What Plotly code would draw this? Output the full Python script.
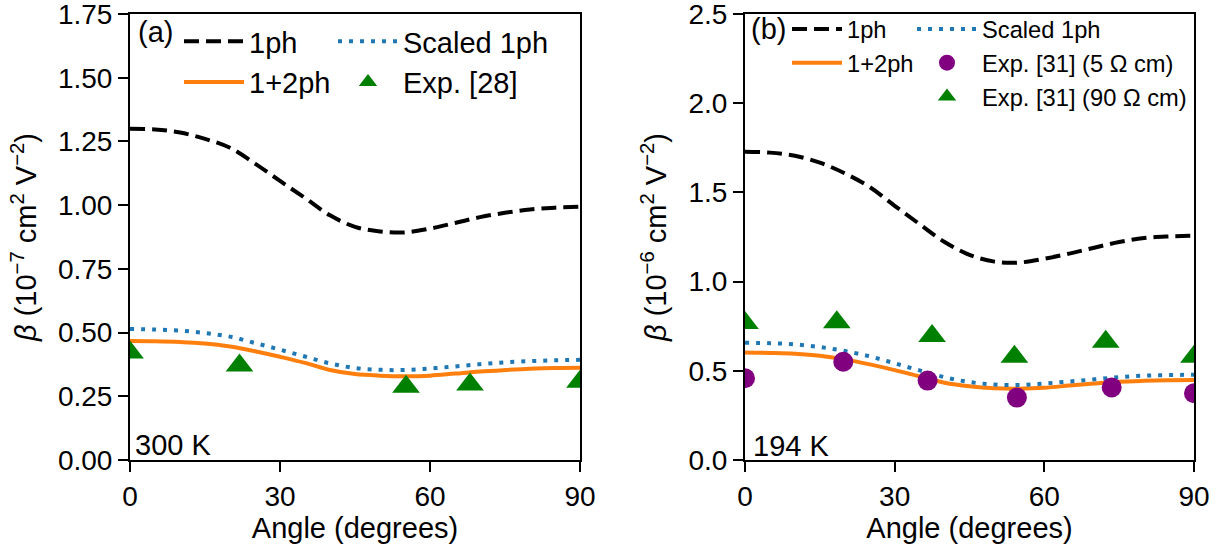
import plotly.graph_objects as go

# ---------------- data ----------------
angles = [0, 5, 10, 15, 20, 25, 30, 35, 40, 45, 50, 55, 60, 65, 70, 75, 80, 85, 90]

a_1ph = [1.300, 1.297, 1.285, 1.260, 1.225, 1.163, 1.095, 1.028, 0.960, 0.915,
         0.897, 0.893, 0.908, 0.930, 0.953, 0.970, 0.983, 0.990, 0.994]
a_scaled = [0.514, 0.512, 0.508, 0.498, 0.484, 0.459, 0.433, 0.406, 0.379, 0.361,
            0.354, 0.353, 0.359, 0.367, 0.376, 0.383, 0.388, 0.391, 0.393]
a_12ph = [0.467, 0.466, 0.463, 0.457, 0.445, 0.427, 0.405, 0.381, 0.353, 0.337,
          0.331, 0.329, 0.331, 0.339, 0.347, 0.353, 0.358, 0.361, 0.362]
a_exp_ang = [0, 21.9, 55.2, 68, 90]
a_exp = [0.422, 0.371, 0.287, 0.296, 0.307]

b_1ph = [1.728, 1.723, 1.705, 1.667, 1.607, 1.530, 1.425, 1.322, 1.222, 1.150,
         1.112, 1.107, 1.128, 1.157, 1.190, 1.222, 1.244, 1.253, 1.257]
b_scaled = [0.657, 0.655, 0.648, 0.633, 0.611, 0.581, 0.542, 0.502, 0.464, 0.437,
            0.423, 0.421, 0.429, 0.440, 0.452, 0.464, 0.473, 0.476, 0.478]
b_12ph = [0.602, 0.600, 0.596, 0.585, 0.564, 0.536, 0.504, 0.468, 0.433, 0.413,
          0.402, 0.400, 0.405, 0.417, 0.429, 0.439, 0.444, 0.447, 0.448]
b_exp5_ang = [0, 19.7, 36.6, 54.5, 73.5, 90]
b_exp5 = [0.458, 0.551, 0.445, 0.350, 0.407, 0.374]
b_exp90_ang = [0, 18.4, 37.5, 54, 72.3, 90]
b_exp90 = [0.768, 0.772, 0.695, 0.579, 0.663, 0.579]

x_ticks = [0, 30, 60, 90]
a_yticks = [0, 0.25, 0.5, 0.75, 1.0, 1.25, 1.5, 1.75]
b_yticks = [0, 0.5, 1.0, 1.5, 2.0, 2.5]

# ---------------- styling ----------------
W, H = 1219, 550
FONT = "Liberation Sans, Arial, Helvetica, sans-serif"
FS = 29
TFS = 28
LFS_B = 23.7
BLACK = "#000000"
BLUE = "#1f77b4"
ORANGE = "#ff7f0e"
GREEN = "#008000"
PURPLE = "#800080"


def px(v):
    return v / W


def py(v):
    return 1 - v / H


fig = go.Figure()

# panel a
fig.add_trace(go.Scatter(x=angles, y=a_1ph, mode="lines", name="1ph", line_shape="spline",
                         line=dict(color=BLACK, width=4, dash="15px,7px"),
                         xaxis="x", yaxis="y", legend="legend"))
fig.add_trace(go.Scatter(x=angles, y=a_12ph, mode="lines", name="1+2ph", line_shape="spline",
                         line=dict(color=ORANGE, width=4),
                         xaxis="x", yaxis="y", legend="legend"))
fig.add_trace(go.Scatter(x=angles, y=a_scaled, mode="lines", name="Scaled 1ph", line_shape="spline",
                         line=dict(color=BLUE, width=4, dash="4px,7px"),
                         xaxis="x", yaxis="y", legend="legend2"))
fig.add_trace(go.Scatter(x=a_exp_ang, y=a_exp, mode="markers", name="Exp. [28]",
                         marker=dict(symbol="triangle-up", size=24, color=GREEN),
                         xaxis="x", yaxis="y", legend="legend2"))

# panel b
fig.add_trace(go.Scatter(x=angles, y=b_1ph, mode="lines", name="1ph", line_shape="spline",
                         line=dict(color=BLACK, width=4, dash="15px,7px"),
                         xaxis="x2", yaxis="y2", legend="legend3"))
fig.add_trace(go.Scatter(x=angles, y=b_12ph, mode="lines", name="1+2ph", line_shape="spline",
                         line=dict(color=ORANGE, width=4),
                         xaxis="x2", yaxis="y2", legend="legend3"))
fig.add_trace(go.Scatter(x=angles, y=b_scaled, mode="lines", name="Scaled 1ph", line_shape="spline",
                         line=dict(color=BLUE, width=4, dash="4px,7px"),
                         xaxis="x2", yaxis="y2", legend="legend4"))
fig.add_trace(go.Scatter(x=b_exp5_ang, y=b_exp5, mode="markers", name="Exp. [31] (5 Ω cm)",
                         marker=dict(symbol="circle", size=20, color=PURPLE),
                         xaxis="x2", yaxis="y2", legend="legend4"))
fig.add_trace(go.Scatter(x=b_exp90_ang, y=b_exp90, mode="markers", name="Exp. [31] (90 Ω cm)",
                         marker=dict(symbol="triangle-up", size=24, color=GREEN),
                         xaxis="x2", yaxis="y2", legend="legend4"))

axis_common = dict(showline=True, linecolor=BLACK, linewidth=2, mirror=True,
                   ticks="outside", ticklen=10, tickwidth=1.5, tickcolor=BLACK,
                   showgrid=False, zeroline=False, automargin=False,
                   ticklabeloverflow="allow",
                   tickfont=dict(family=FONT, size=TFS, color=BLACK))

ydom = [py(460), py(14)]


def leg(x, y, size, iw):
    return dict(x=px(x), y=py(y), xanchor="left", yanchor="top", bgcolor="rgba(0,0,0,0)",
                font=dict(family=FONT, size=size, color=BLACK), itemwidth=iw, tracegroupgap=0)


fig.update_layout(
    width=W, height=H,
    margin=dict(l=0, r=0, t=0, b=0, autoexpand=False),
    paper_bgcolor="white", plot_bgcolor="white",
    font=dict(family=FONT, size=FS, color=BLACK),
    xaxis=dict(domain=[px(130), px(580)], range=[0, 90], tickvals=x_ticks, anchor="y",
               title=dict(text="Angle (degrees)", standoff=6, font=dict(size=FS)), **axis_common),
    yaxis=dict(domain=ydom, range=[0, 1.75], tickvals=a_yticks, tickformat=".2f", anchor="x",
               title=dict(text="<i>β</i> (10<sup>−7</sup> cm<sup>2</sup> V<sup>−2</sup>)",
                          standoff=13, font=dict(size=FS)), **axis_common),
    xaxis2=dict(domain=[px(745), px(1194)], range=[0, 90], tickvals=x_ticks, anchor="y2",
                title=dict(text="Angle (degrees)", standoff=6, font=dict(size=FS)), **axis_common),
    yaxis2=dict(domain=ydom, range=[0, 2.5], tickvals=b_yticks, tickformat=".1f", anchor="x2",
                title=dict(text="<i>β</i> (10<sup>−6</sup> cm<sup>2</sup> V<sup>−2</sup>)",
                           standoff=13, font=dict(size=FS)), **axis_common),
    legend=leg(179, 16, FS, 60),
    legend2=leg(333, 16, FS, 60),
    legend3=leg(787, 7, LFS_B, 50),
    legend4=leg(912, 7, LFS_B, 60),
    showlegend=True,
    annotations=[
        dict(text="(a)", x=px(136), y=py(32), xref="paper", yref="paper", xanchor="left",
             yanchor="middle", showarrow=False, font=dict(family=FONT, size=FS)),
        dict(text="(b)", x=px(749), y=py(29), xref="paper", yref="paper", xanchor="left",
             yanchor="middle", showarrow=False, font=dict(family=FONT, size=FS)),
        dict(text="300 K", x=px(133), y=py(445), xref="paper", yref="paper", xanchor="left",
             yanchor="middle", showarrow=False, font=dict(family=FONT, size=FS)),
        dict(text="194 K", x=px(751), y=py(446), xref="paper", yref="paper", xanchor="left",
             yanchor="middle", showarrow=False, font=dict(family=FONT, size=FS)),
    ],
)

fig.write_html("out.html", post_script="document.body.style.margin='0';",
               config={"displayModeBar": False})
